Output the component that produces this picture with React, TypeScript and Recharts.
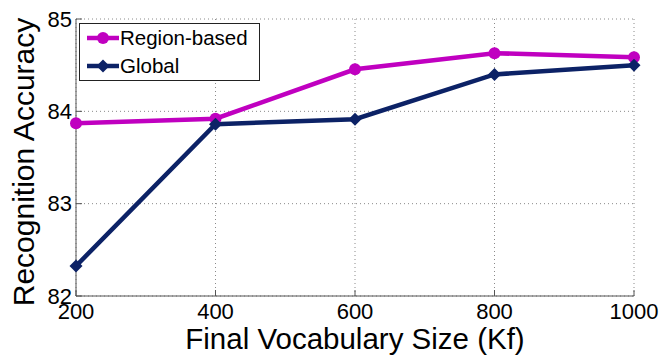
import React from "react";
import { LineChart, Line, XAxis, YAxis, CartesianGrid, Legend } from "recharts";

// vocabulary sizes (Kf)
const sizes = [200, 400, 600, 800, 1000];
const regionBased = [83.87, 83.92, 84.455, 84.63, 84.585];
const globalAcc = [82.325, 83.86, 83.915, 84.4, 84.5];

const xTicks = [200, 400, 600, 800, 1000];
const yTicks = [82, 83, 84, 85];

const MAGENTA = "#c000c0";
const NAVY = "#0c2266";
const FONT = '"Liberation Sans", Arial, Helvetica, sans-serif';

const data = sizes.map((x, i) => ({ x, region: regionBased[i], global: globalAcc[i] }));

const Diamond = (props: any) => {
  const { cx, cy, fill } = props;
  if (cx == null || cy == null) return null;
  const r = 6.5;
  return <path d={`M${cx},${cy - r} L${cx + r},${cy} L${cx},${cy + r} L${cx - r},${cy} Z`} fill={fill} />;
};

const XTitle = () => (
  <text x={355} y={348.5} textAnchor="middle" fontSize={29.5} fontFamily={FONT} fill="#000">
    Final Vocabulary Size (Kf)
  </text>
);

const YTitle = () => (
  <text x={34} y={162} transform="rotate(-90 34 162)" textAnchor="middle" fontSize={30} fontFamily={FONT} fill="#000">
    Recognition Accuracy
  </text>
);

const LegendBox = () => {
  const rows = [
    { name: "Region-based", color: MAGENTA, marker: "circle" },
    { name: "Global", color: NAVY, marker: "diamond" },
  ];
  return (
    <div
      style={{
        width: 179,
        height: 56,
        border: "1px solid #222",
        background: "#fff",
        fontFamily: FONT,
        fontSize: 20.5,
        color: "#000",
        position: "relative",
      }}
    >
      {rows.map((r, i) => (
        <div
          key={r.name}
          style={{ position: "absolute", left: 6, top: 2 + i * 27.5, height: 24, display: "flex", alignItems: "center" }}
        >
          <svg width={34} height={16} style={{ display: "block" }}>
            <line x1={1} y1={8} x2={33} y2={8} stroke={r.color} strokeWidth={4.5} />
            {r.marker === "circle" ? (
              <circle cx={17} cy={8} r={6} fill={r.color} />
            ) : (
              <path d="M17,1.5 L23.5,8 L17,14.5 L10.5,8 Z" fill={r.color} />
            )}
          </svg>
          <span style={{ lineHeight: "24px" }}>{r.name}</span>
        </div>
      ))}
    </div>
  );
};

export default function App() {
  return (
    <div style={{ position: "absolute", left: 0, top: 0, background: "#fff" }}>
      <LineChart width={664} height={355} data={data} margin={{ top: 19, right: 30, bottom: 0, left: 0 }}>
        <CartesianGrid stroke="#8a8a8a" strokeDasharray="1 3" />
        <XAxis
          dataKey="x"
          type="number"
          domain={[200, 1000]}
          ticks={xTicks}
          height={59}
          tickSize={-6}
          tickMargin={13}
          stroke="#555"
          tick={{ fill: "#000", fontSize: 22, fontFamily: FONT }}
          label={<XTitle />}
        />
        <XAxis
          xAxisId="top"
          orientation="top"
          dataKey="x"
          type="number"
          domain={[200, 1000]}
          ticks={xTicks}
          height={0}
          tickSize={6}
          tick={false}
          stroke="#555"
        />
        <YAxis
          type="number"
          domain={[82, 85]}
          ticks={yTicks}
          width={76}
          tickSize={-6}
          tickMargin={10}
          stroke="#555"
          tick={{ fill: "#000", fontSize: 22, fontFamily: FONT }}
          label={<YTitle />}
        />
        <YAxis
          yAxisId="right"
          orientation="right"
          type="number"
          domain={[82, 85]}
          ticks={yTicks}
          width={0}
          tickSize={6}
          tick={false}
          stroke="#555"
        />
        <Legend
          layout="vertical"
          align="center"
          verticalAlign="middle"
          content={<LegendBox />}
          wrapperStyle={{ position: "absolute", top: 23, left: 79, width: "auto", height: "auto" }}
        />
        <Line
          dataKey="region"
          name="Region-based"
          stroke={MAGENTA}
          strokeWidth={4.5}
          dot={{ r: 6, fill: MAGENTA, stroke: MAGENTA, strokeWidth: 0 }}
          isAnimationActive={false}
        />
        <Line
          dataKey="global"
          name="Global"
          stroke={NAVY}
          strokeWidth={4.5}
          dot={(p: any) => <Diamond key={p.index} cx={p.cx} cy={p.cy} fill={NAVY} />}
          isAnimationActive={false}
        />
      </LineChart>
    </div>
  );
}
